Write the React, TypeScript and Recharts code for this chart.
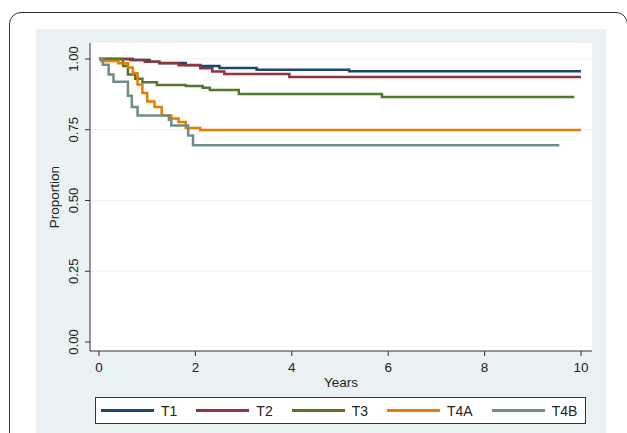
import { LineChart, Line, XAxis, YAxis, CartesianGrid } from 'recharts'

const font = '"Liberation Sans", Arial, sans-serif'

// Kaplan-Meier estimates
const t1Years = [0, 0.7, 1.05, 1.25, 1.8, 2.1, 2.5, 3.27, 5.19, 10.0]
const t1Surv = [1, 0.996, 0.99, 0.986, 0.979, 0.975, 0.968, 0.962, 0.957, 0.957]
const t2Years = [0, 0.65, 0.95, 1.25, 1.65, 2.1, 2.35, 2.6, 3.95, 10.0]
const t2Surv = [1, 0.996, 0.99, 0.985, 0.978, 0.967, 0.956, 0.947, 0.936, 0.936]
const t3Years = [0, 0.5, 0.6, 0.75, 0.9, 1.2, 1.8, 2.15, 2.3, 2.9, 5.87, 9.86]
const t3Surv = [1, 0.975, 0.945, 0.93, 0.918, 0.908, 0.905, 0.898, 0.89, 0.876, 0.866, 0.866]
const t4aYears = [0, 0.05, 0.4, 0.6, 0.7, 0.8, 0.9, 1.0, 1.15, 1.3, 1.5, 1.65, 1.8, 2.1, 10.0]
const t4aSurv = [1, 0.993, 0.985, 0.97, 0.95, 0.91, 0.88, 0.85, 0.83, 0.8, 0.79, 0.777, 0.756, 0.749, 0.749]
const t4bYears = [0, 0.08, 0.2, 0.3, 0.6, 0.68, 0.8, 1.45, 1.5, 1.85, 1.95, 9.55]
const t4bSurv = [1, 0.98, 0.945, 0.92, 0.87, 0.83, 0.8, 0.785, 0.765, 0.73, 0.695, 0.695]

const xTicks = [0, 2, 4, 6, 8, 10]
const yTicks = [0, 0.25, 0.5, 0.75, 1]

const groups = [
  { name: 'T1', color: '#1a476f', years: t1Years, surv: t1Surv },
  { name: 'T2', color: '#90353b', years: t2Years, surv: t2Surv },
  { name: 'T3', color: '#55752f', years: t3Years, surv: t3Surv },
  { name: 'T4A', color: '#e37e00', years: t4aYears, surv: t4aSurv },
  { name: 'T4B', color: '#6e8e84', years: t4bYears, surv: t4bSurv },
]

const YTick = ({ x, y, payload }: any) => (
  <g transform={`translate(${x},${y})`}>
    <line x1={3} x2={8} y1={0} y2={0} stroke="#333" />
    <text transform="rotate(-90)" textAnchor="middle" dy={-4} fontSize={13} fill="#222" fontFamily={font}>
      {payload.value.toFixed(2)}
    </text>
  </g>
)

const LegendBox = () => (
  <div style={{ position: 'absolute', left: 95, top: 397, width: 491, height: 27, display: 'flex', alignItems: 'center', gap: 19, paddingLeft: 5, boxSizing: 'border-box', background: '#fff', border: '1px solid #333', fontFamily: font, fontSize: 14, color: '#222' }}>
    {groups.map(g => (
      <div key={g.name} style={{ display: 'flex', alignItems: 'center' }}>
        <span style={{ width: 53, height: 3, background: g.color, marginRight: 7 }} />
        <span>{g.name}</span>
      </div>
    ))}
  </div>
)

export default function App() {
  return (
    <div style={{ position: 'absolute', left: 0, top: 0, width: 627, height: 433, overflow: 'hidden', background: '#fff' }}>
      <div style={{ position: 'absolute', left: 9, top: 12, width: 617, height: 460, border: '1.5px solid #333', borderRadius: 12 }} />
      <div style={{ position: 'absolute', left: 36, top: 29, width: 570, height: 420, background: '#eaf2f3' }} />
      <div style={{ position: 'absolute', left: 0, top: 0 }}>
        <LineChart width={627} height={433} margin={{ top: 43, right: 35, left: 40, bottom: 52 }}>
          <CartesianGrid fill="#fff" stroke="#eaf2f3" vertical={false} horizontalValues={[0.25, 0.5, 0.75, 1]} />
          <XAxis
            type="number"
            dataKey="x"
            domain={[-0.187, 10.228]}
            ticks={xTicks}
            allowDataOverflow
            height={30}
            tickSize={5}
            tickMargin={6}
            stroke="#333"
            tick={{ fontSize: 13.5, fill: '#222', fontFamily: font }}
            label={{ value: 'Years', position: 'insideBottom', offset: -6, fontSize: 13.5, fill: '#222', fontFamily: font }}
          />
          <YAxis
            type="number"
            domain={[-0.0318, 1.0565]}
            ticks={yTicks}
            allowDataOverflow
            width={50}
            tickLine={false}
            stroke="#333"
            tick={<YTick />}
            label={{ value: 'Proportion', angle: -90, position: 'insideLeft', offset: 14, fontSize: 13.5, fill: '#222', fontFamily: font, style: { textAnchor: 'middle' } }}
          />
          {groups.map(g => (
            <Line
              key={g.name}
              name={g.name}
              data={g.years.map((x, i) => ({ x, y: g.surv[i] }))}
              dataKey="y"
              type="stepAfter"
              stroke={g.color}
              strokeWidth={2.5}
              dot={false}
              isAnimationActive={false}
            />
          ))}
        </LineChart>
      </div>
      <LegendBox />
    </div>
  )
}
